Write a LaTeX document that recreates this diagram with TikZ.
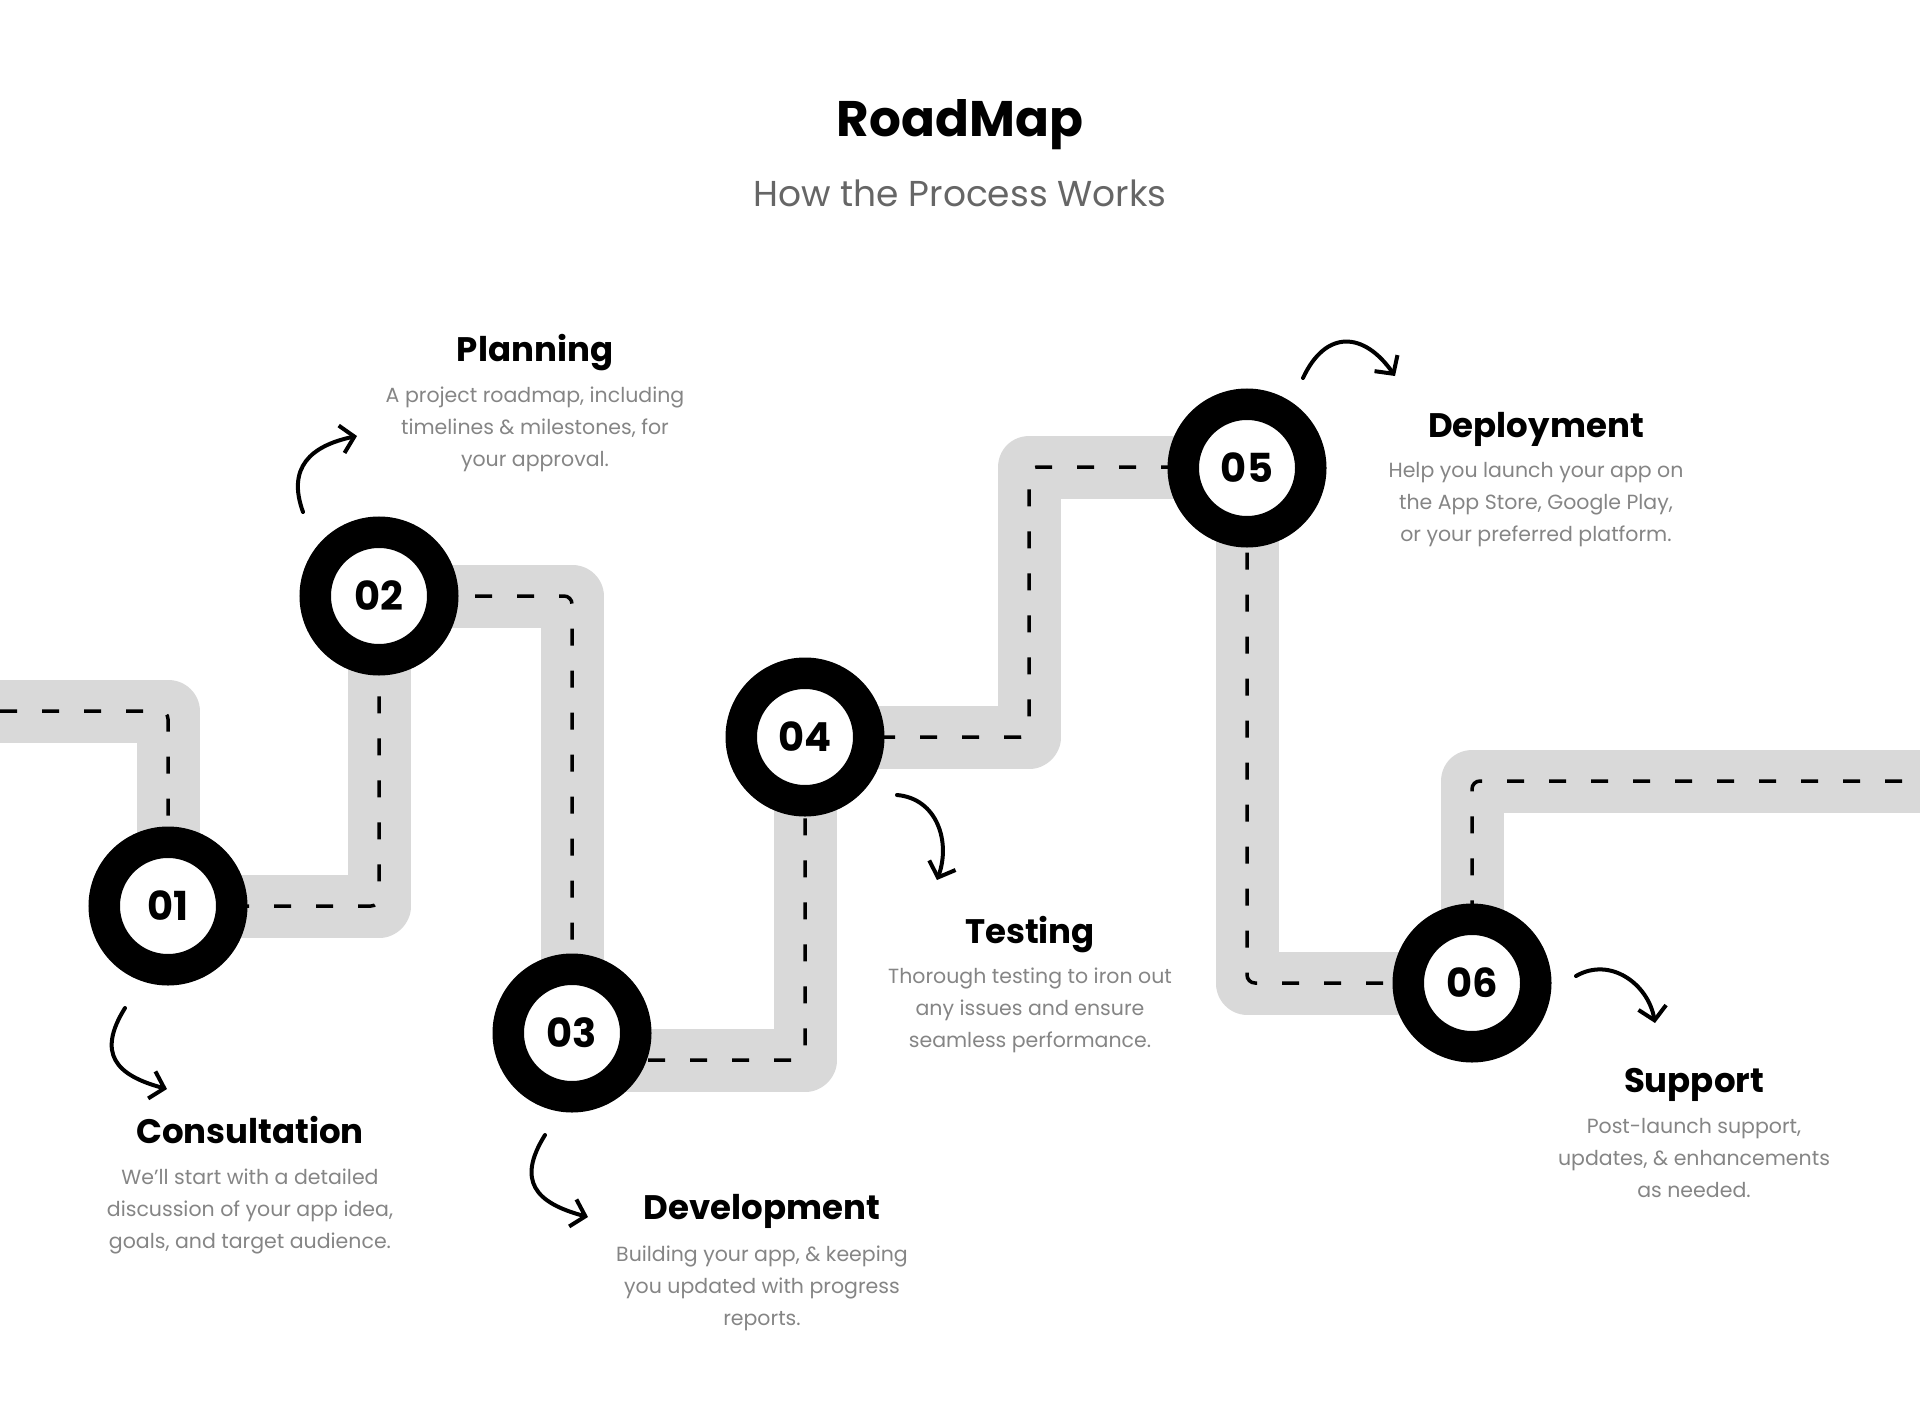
\documentclass[tikz,border=0pt]{standalone}
\usepackage{fontspec}
\setmainfont{Poppins}
\usepackage{tikz}
\usetikzlibrary{arrows.meta}
\usetikzlibrary{positioning}
\definecolor{roadgray}{HTML}{D9D9D9}
\definecolor{textgray}{HTML}{858585}
\definecolor{subgray}{HTML}{666666}
\tikzstyle{milestone}=[circle,draw=black,fill=white,line width=31.5pt,minimum size=127.5pt,inner sep=0pt,font=\fontsize{40}{40}\selectfont\bfseries]
\tikzstyle{heading}=[anchor=base,inner sep=0pt,font=\fontsize{34}{34}\selectfont\bfseries]
\tikzstyle{blurb}=[anchor=base,inner sep=0pt,align=center,text=textgray,font=\fontsize{20.5}{32}\selectfont]
\tikzstyle{road}=[draw=roadgray,line width=63pt,line join=round]
\tikzstyle{lane}=[draw=black,line width=3.5pt,dash pattern=on 17pt off 25pt,rounded corners=8pt]
\tikzstyle{hint}=[-{Straight Barb[length=13pt,width=28pt]},line width=4pt,line cap=round]

\begin{document}
\begin{tikzpicture}[x=1pt,y=1pt]
	\useasboundingbox (0,0) rectangle (1920,-1413);
	% the road
	\draw[road] (-10,-711) -- (168,-711) -- (168,-906) -- (379,-906) -- (379,-596) -- (572,-596) -- (572,-1060) -- (805,-1060) -- (805,-737) -- (1029,-737) -- (1029,-467) -- (1247,-467) -- (1247,-983) -- (1472,-983) -- (1472,-781) -- (1930,-781);
	\draw[lane] (0,-711) -- (168,-711) -- (168,-906) -- (379,-906) -- (379,-596) -- (572,-596) -- (572,-1060) -- (805,-1060) -- (805,-737) -- (1029,-737) -- (1029,-467) -- (1247,-467) -- (1247,-983) -- (1472,-983) -- (1472,-781) -- (1920,-781);
	% milestones
	\node[milestone] (1) at (168,-906) {01};
	\node[milestone] (2) at (379,-596) {02};
	\node[milestone] (3) at (572,-1033) {03};
	\node[milestone] (4) at (805,-737) {04};
	\node[milestone] (5) at (1247,-468) {05};
	\node[milestone] (6) at (1472,-983) {06};
	% title
	\node[anchor=base,inner sep=0pt,font=\fontsize{50}{50}\selectfont\bfseries] (title) at (960,-136) {RoadMap};
	\node[anchor=base,inner sep=0pt,text=subgray,font=\fontsize{36}{36}\selectfont] (subtitle) at (960,-206) {How the Process Works};
	% steps (blurbs sit on their last line)
	\node[heading] (h1) at (250,-1143) {Consultation};
	\node[blurb] (t1) at (250,-1248) {We'll start with a detailed\\discussion of your app idea,\\goals, and target audience.};
	\node[heading] (h2) at (535,-361) {Planning};
	\node[blurb] (t2) at (535,-466) {A project roadmap, including\\timelines \& milestones, for\\your approval.};
	\node[heading] (h3) at (762,-1219) {Development};
	\node[blurb] (t3) at (762,-1325) {Building your app, \& keeping\\you updated with progress\\reports.};
	\node[heading] (h4) at (1030,-943) {Testing};
	\node[blurb] (t4) at (1030,-1047) {Thorough testing to iron out\\any issues and ensure\\seamless performance.};
	\node[heading] (h5) at (1536,-437) {Deployment};
	\node[blurb] (t5) at (1536,-541) {Help you launch your app on\\the App Store, Google Play,\\or your preferred platform.};
	\node[heading] (h6) at (1694,-1092) {Support};
	\node[blurb] (t6) at (1694,-1197) {Post-launch support,\\updates, \& enhancements\\as needed.};
	% hand drawn arrows
	\coordinate (a1) at (125,-1008);
	\coordinate (b1) at (167,-1089);
	\coordinate (a2) at (303,-512);
	\coordinate (b2) at (357,-436);
	\coordinate (a3) at (545,-1135);
	\coordinate (b3) at (588,-1217);
	\coordinate (a4) at (897,-795);
	\coordinate (b4) at (937,-880);
	\coordinate (a5) at (1303,-378);
	\coordinate (b5) at (1395,-376);
	\coordinate (a6) at (1576,-976);
	\coordinate (b6) at (1655,-1023);
	\path [hint] (a1) edge [out=238,in=165,looseness=1.5] (b1);
	\path [hint] (a2) edge [out=110,in=192,looseness=1.3] (b2);
	\path [hint] (a3) edge [out=238,in=165,looseness=1.5] (b3);
	\path [hint] (a4) edge [out=-5,in=70,looseness=1.1] (b4);
	\path [hint] (a5) edge [out=65,in=125,looseness=1.5] (b5);
	\path [hint] (a6) edge [out=30,in=100,looseness=1.1] (b6);
\end{tikzpicture}
\end{document}
